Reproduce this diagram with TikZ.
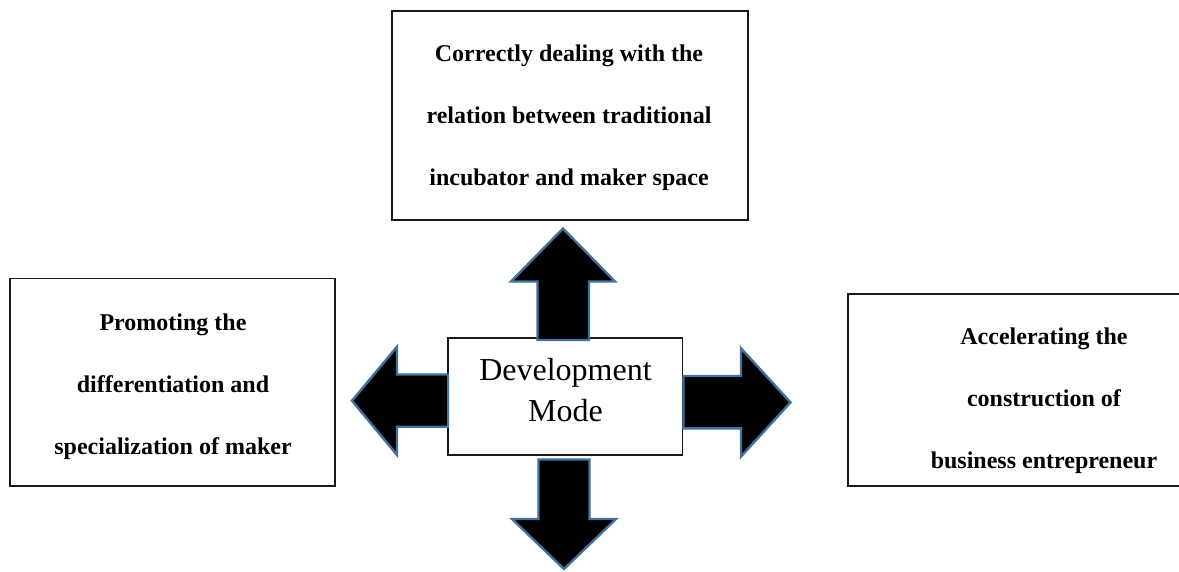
\documentclass[tikz,border=0pt]{standalone}
\usepackage{fontspec}
\setmainfont{Liberation Serif}
\usepackage{tikz}
\definecolor{arrowblue}{HTML}{41719C}

\begin{document}
\begin{tikzpicture} [x=1pt, y=-1pt, frame/.style={draw=black!90, line width=1.3pt, inner sep=0pt}, boxtext/.style={anchor=base, align=center, inner sep=0pt, font=\bfseries\fontsize{24}{62}\selectfont}, bigarrow/.style={fill=black, draw=arrowblue, line width=2.4pt, line join=miter}]
\useasboundingbox (0,0) rectangle (1179,572);
\node[frame, minimum width=356pt, minimum height=209pt](corr) at (570,115.5){};
\node[boxtext](corrtext) at (569,186){Correctly dealing with the\\relation between traditional\\incubator and maker space};
\node[frame, minimum width=325pt, minimum height=207.7pt](prom) at (172.5,382.2){};
\node[boxtext](promtext) at (173,454){Promoting the\\differentiation and\\specialization of maker};
\node[frame, minimum width=392pt, minimum height=192pt](accel) at (1044,390){};
\node[boxtext](acceltext) at (1044,468){Accelerating the\\construction of\\business entrepreneur};
\node[frame, minimum width=234.7pt, minimum height=117pt](dev) at (565.3,396.5){};
\node[anchor=base, align=center, inner sep=0pt, font=\fontsize{32}{41}\selectfont](devtext) at (565.5,421.7){Development\\Mode};
\draw[bigarrow] (563,228.5) -- (615,281.5) -- (589,281.5) -- (589,340) -- (537.5,340) -- (537.5,281.5) -- (511,281.5) -- cycle;
\draw[bigarrow] (564,569) -- (616,519) -- (589.5,519) -- (589.5,459.5) -- (538.5,459.5) -- (538.5,519) -- (512,519) -- cycle;
\draw[bigarrow] (352,400.7) -- (397,346.7) -- (397,374.5) -- (448,374.5) -- (448,426.7) -- (397,426.7) -- (397,455) -- cycle;
\draw[bigarrow] (790.5,402.4) -- (741,348.3) -- (741,376) -- (683.5,376) -- (683.5,428.3) -- (741,428.3) -- (741,456.5) -- cycle;
\end{tikzpicture}
\end{document}
